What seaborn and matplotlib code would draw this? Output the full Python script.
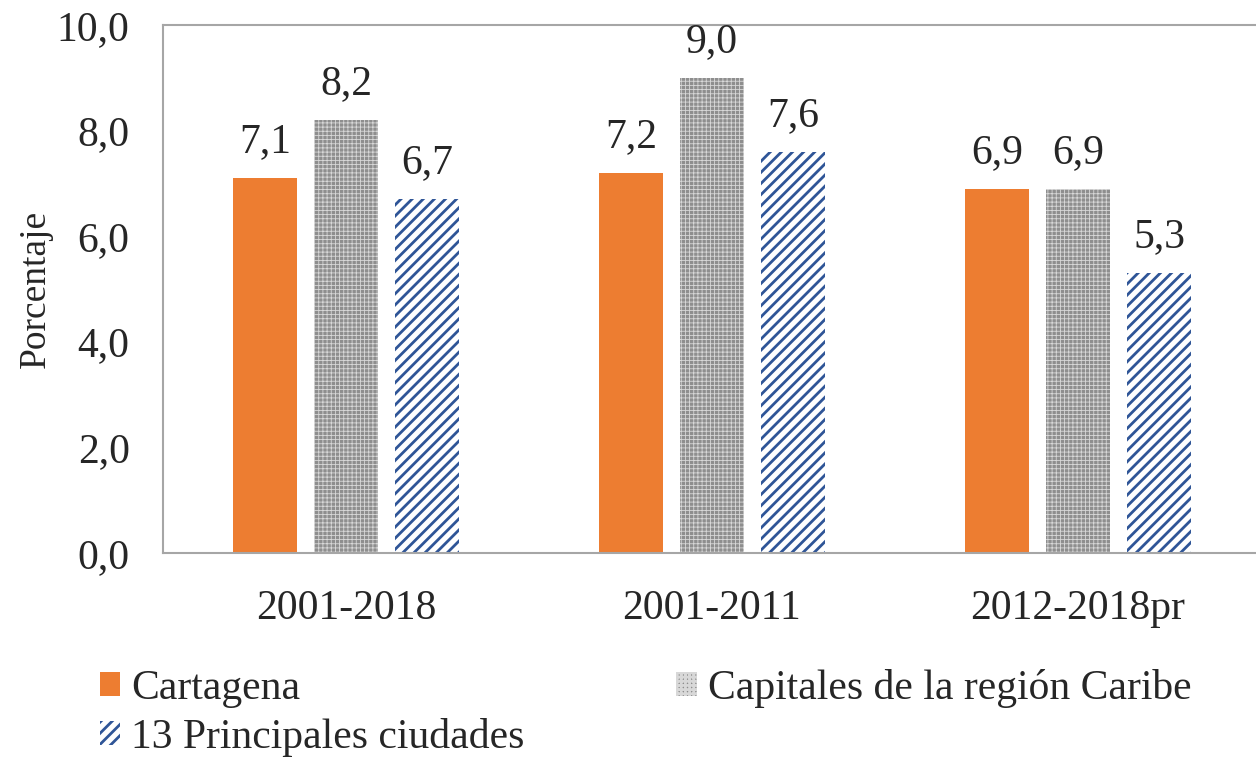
import seaborn as sns
import matplotlib.pyplot as plt
import matplotlib as mpl
import pandas as pd

periods = ['2001-2018', '2001-2011', '2012-2018pr']
series = ['Cartagena', 'Capitales de la región Caribe', '13 Principales ciudades']
cartagena = [7.1, 7.2, 6.9]
capitales = [8.2, 9.0, 6.9]
principales = [6.7, 7.6, 5.3]

df = pd.DataFrame({
    'periodo': periods * 3,
    'serie': [series[0]] * 3 + [series[1]] * 3 + [series[2]] * 3,
    'valor': cartagena + capitales + principales,
})

sns.set_style('white')
plt.rcParams['font.family'] = ['Liberation Serif', 'DejaVu Serif']
plt.rcParams['hatch.linewidth'] = 2.0

fig = plt.figure(figsize=(12.56, 7.62), dpi=100)
ax = fig.add_axes([163 / 1256, 1 - 553 / 762, 1098 / 1256, 528 / 762])

sns.barplot(data=df, x='periodo', y='valor', hue='serie', ax=ax,
            width=0.664, gap=0.2, legend=False)

styles = {
    series[0]: dict(fc='#ED7D31', ec='#ED7D31', hatch=None),
    series[1]: dict(fc='#8e8e8e', ec='#d8d8d8', hatch='++++'),
    series[2]: dict(fc='white', ec='#2F5597', hatch='///'),
}

for cont, name in zip(ax.containers, series):
    st = styles[name]
    for bar in cont:
        bar.set_facecolor(st['fc'])
        bar.set_edgecolor(st['ec'])
        bar.set_linewidth(0)
        if st['hatch']:
            bar.set_hatch(st['hatch'])
            if hasattr(bar, 'set_hatch_linewidth'):
                bar.set_hatch_linewidth(0.6 if name == series[1] else 2.0)
    ax.bar_label(cont, labels=[f'{v:.1f}'.replace('.', ',') for v in cont.datavalues],
                 padding=12, fontsize=30)

ax.set_ylim(0, 10)
ax.set_yticks([0, 2, 4, 6, 8, 10])
ax.set_yticklabels([f'{t:.1f}'.replace('.', ',') for t in [0, 2, 4, 6, 8, 10]])
ax.tick_params(axis='both', length=0, labelsize=30)
ax.tick_params(axis='y', pad=24)
ax.tick_params(axis='x', pad=26)
ax.set_xlabel('')
ax.set_ylabel('Porcentaje', fontsize=27, labelpad=3)
for s in ax.spines.values():
    s.set_visible(True)
    s.set_color('#a6a6a6')
    s.set_linewidth(1.5)

handles = {}
for name in series:
    st = styles[name]
    handles[name] = mpl.patches.Patch(facecolor=st['fc'], edgecolor=st['ec'], linewidth=0,
                                      hatch=st['hatch'], label=name)
order = [series[0], series[2], series[1]]

fig.legend(handles=[handles[n] for n in order], ncol=2, loc='upper left',
           bbox_to_anchor=(0.066, 1 - 652 / 762), borderaxespad=0,
           frameon=False, fontsize=30, handlelength=0.5, handleheight=0.5,
           handletextpad=0.25, columnspacing=3.65, labelspacing=0.25)

fig.savefig('out.png', dpi=100)
